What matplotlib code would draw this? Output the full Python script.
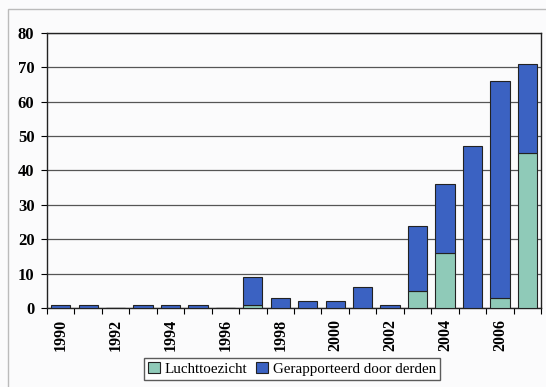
import numpy as np
import matplotlib
matplotlib.use('Agg')
import matplotlib.pyplot as plt
from matplotlib.patches import Rectangle

# Number of incidents per year, split by source
years = list(range(1990, 2008))
luchttoezicht = [0, 0, 0, 0, 0, 0, 0, 1, 0, 0, 0, 0, 0, 5, 16, 0, 3, 45]
derden = [1, 1, 0, 1, 1, 1, 0, 8, 3, 2, 2, 6, 1, 19, 20, 47, 63, 26]
y_ticks = [0, 10, 20, 30, 40, 50, 60, 70, 80]

blue = '#3b62c2'
teal = '#8fcab8'

plt.rcParams['font.family'] = ['Liberation Serif', 'DejaVu Serif']

fig = plt.figure(figsize=(5.46, 3.87), dpi=100)
fig.patch.set_facecolor('#fbfbfc')
ax = fig.add_axes([0.086, 0.204, 0.905, 0.711])
ax.set_facecolor('#fbfbfc')

x = np.arange(len(years))
ax.bar(x, luchttoezicht, width=0.7, color=teal, edgecolor='#222222',
       linewidth=0.8, label='Luchttoezicht', zorder=3)
ax.bar(x, derden, width=0.7, bottom=luchttoezicht, color=blue,
       edgecolor='#222222', linewidth=0.8,
       label='Gerapporteerd door derden', zorder=3)

ax.set_xlim(-0.5, len(years) - 0.5)
ax.set_ylim(0, 80)
ax.set_yticks(y_ticks)
ax.set_yticklabels([str(v) for v in y_ticks], fontsize=12, fontweight='bold')
ax.yaxis.grid(True, color='#555555', linewidth=0.9, zorder=0)

# labels on every other year, tick marks between categories
ax.set_xticks(x[::2])
ax.set_xticklabels([str(y) for y in years[::2]], rotation=90,
                   fontsize=11.5, fontweight='bold')
ax.set_xticks(np.arange(-0.5, len(years), 1), minor=True)
ax.tick_params(axis='x', which='major', length=0, pad=8)
ax.tick_params(axis='x', which='minor', length=4, direction='out', width=0.8)
ax.tick_params(axis='y', length=4, direction='out', width=0.8, pad=5)

for side in ['left', 'bottom', 'top', 'right']:
    ax.spines[side].set_color('#222222')
    ax.spines[side].set_linewidth(1.0)

fig.legend(loc='lower center', bbox_to_anchor=(0.535, 0.0), ncol=2,
           fontsize=10.8, frameon=True, fancybox=False, edgecolor='#333333',
           handlelength=0.8, handleheight=0.8, handletextpad=0.3,
           columnspacing=0.6, borderpad=0.25)

fig.patches.append(Rectangle((0.015, -0.2), 1.2, 1.177,
                             transform=fig.transFigure, fill=False,
                             edgecolor='#bbbbbb', linewidth=1.0))

fig.savefig('out.png', dpi=100, facecolor=fig.get_facecolor())
